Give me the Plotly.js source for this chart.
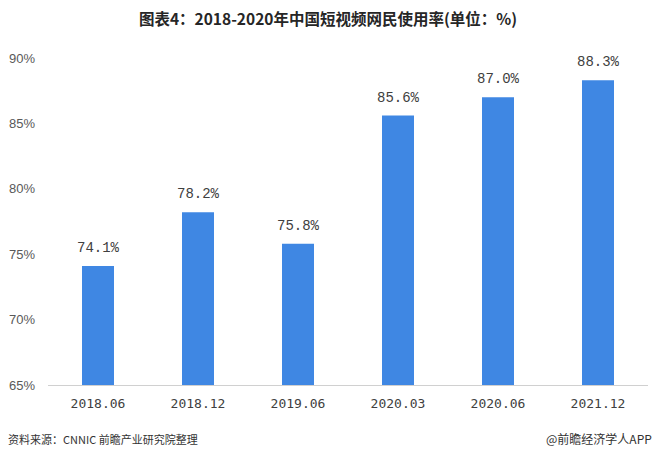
<!DOCTYPE html>
<html><head><meta charset="utf-8">
<script src="https://cdn.plot.ly/plotly-3.0.1.min.js"></script>
<style>html,body{margin:0;padding:0;background:#fff}#c{width:656px;height:463px}</style>
</head><body><div id="c"></div>
<script>
const categories = ["2018.06","2018.12","2019.06","2020.03","2020.06","2021.12"];
const values = [74.1, 78.2, 75.8, 85.6, 87.0, 88.3];
const labels = values.map(v => v.toFixed(1) + "%");
const yTicks = [65,70,75,80,85,90];
const yTickText = yTicks.map(v => v + "%");

const valueLabels = categories.map((c, i) => ({
  x: i, y: values[i], xref: "x", yref: "y", text: labels[i], showarrow: false,
  yanchor: "bottom", yshift: 8,
  font: {family: "Liberation Mono, DejaVu Sans Mono, monospace", size: 14, color: "#404040"}
}));

Plotly.newPlot("c", [{
  type: "bar", x: categories, y: values,
  marker: {color: "#3f87e3"}, width: 0.32, hoverinfo: "none"
}], {
  width: 656, height: 463,
  margin: {l: 48, r: 8, t: 58, b: 78},
  paper_bgcolor: "#fff", plot_bgcolor: "#fff",
  showlegend: false,
  title: {text: "<b>图表4：2018-2020年中国短视频网民使用率(单位：%)</b>", x: 0.5, xanchor: "center", y: 0.957, yanchor: "middle",
    font: {family: "Noto Sans CJK SC", size: 15.5, color: "#262626"}},
  xaxis: {type: "category", range: [-0.5, 5.5], showgrid: false, showline: true, linecolor: "#d0d0d0", linewidth: 1,
    ticks: "", tickfont: {family: "DejaVu Sans Mono, monospace", size: 13, color: "#404040"}, ticklabelstandoff: 6},
  yaxis: {range: [65, 90], tickvals: yTicks, ticktext: yTickText, showgrid: false, zeroline: false, showline: false,
    ticks: "", ticklabelstandoff: 12, tickfont: {family: "Liberation Sans, Arial", size: 13, color: "#595959"}},
  annotations: valueLabels.concat([
    {text: "资料来源：CNNIC 前瞻产业研究院整理", xref: "paper", yref: "paper", x: -0.07, y: -0.165, xanchor: "left", yanchor: "middle", showarrow: false,
      font: {family: "Noto Sans CJK SC", size: 11, color: "#333"}},
    {text: "@前瞻经济学人APP", xref: "paper", yref: "paper", x: 1.01, y: -0.165, xanchor: "right", yanchor: "middle", showarrow: false,
      font: {family: "Noto Sans CJK SC", size: 12, color: "#333"}}
  ])
}, {staticPlot: true});
</script></body></html>
